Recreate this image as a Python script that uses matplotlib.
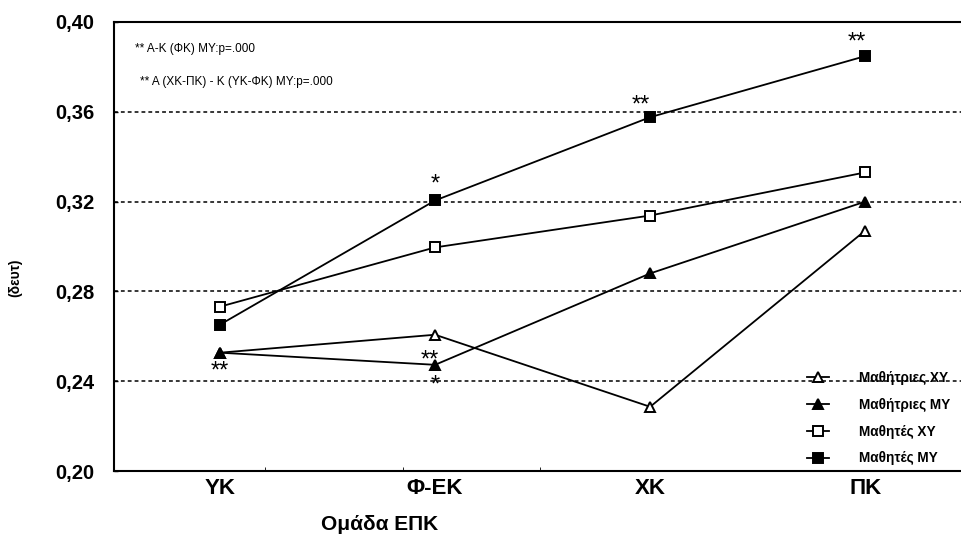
import matplotlib.pyplot as plt

categories = ['ΥΚ', 'Φ-ΕΚ', 'ΧΚ', 'ΠΚ']
girls_xy = [0.2527, 0.2607, 0.2286, 0.3071]
girls_my = [0.2527, 0.2473, 0.2880, 0.3200]
boys_xy = [0.2732, 0.2996, 0.3138, 0.3330]
boys_my = [0.2652, 0.3205, 0.3576, 0.3848]
series_names = ['Μαθήτριες ΧΥ', 'Μαθήτριες ΜΥ', 'Μαθητές ΧΥ', 'Μαθητές ΜΥ']
y_ticks = [0.20, 0.24, 0.28, 0.32, 0.36, 0.40]
y_tick_labels = ['0,20', '0,24', '0,28', '0,32', '0,36', '0,40']
note1 = '** Α-Κ (ΦΚ) ΜΥ:p=.000'
note2 = '** Α (ΧΚ-ΠΚ) - Κ (ΥΚ-ΦΚ) ΜΥ:p=.000'

plt.rcParams['font.family'] = ['Liberation Sans', 'DejaVu Sans']

fig = plt.figure(figsize=(9.62, 5.40), dpi=100)
ax = fig.add_axes([114 / 962, 69 / 540, 848 / 962, 449 / 540])

x = list(range(len(categories)))
ax.set_xlim(-0.493, 3.45)
ax.set_ylim(0.20, 0.40)

for yv in [0.24, 0.28, 0.32, 0.36]:
    ax.axhline(yv, color='black', lw=1.1, ls=(0, (2.5, 2)), zorder=1)

styles = [('^', 'white'), ('^', 'black'), ('s', 'white'), ('s', 'black')]
data = [girls_xy, girls_my, boys_xy, boys_my]
for vals, (m, fc), name in zip(data, styles, series_names):
    ax.plot(x, vals, color='black', lw=1.3, marker=m, markersize=7.5,
            markerfacecolor=fc, markeredgecolor='black', markeredgewidth=1.4,
            label=name, zorder=3)

# significance stars (offsets in points, baseline)
stars = [
    (3, boys_my[3], '**', -6, 5.5),
    (2, boys_my[2], '**', -7, 4),
    (1, boys_my[1], '*', 0, 7),
    (0, girls_my[0], '**', 0, -18),
    (1, girls_my[1], '**', -4, -1),
    (1, girls_my[1], '*', 0, -19),
]
for xi, yi, s, dx, dy in stars:
    ax.annotate(s, (xi, yi), xytext=(dx, dy), textcoords='offset points',
                ha='center', va='baseline', fontsize=17)

ax.text(21 / 848, 0.94, note1, transform=ax.transAxes,
        fontsize=8.5, va='center')
ax.text(26 / 848, 0.866, note2, transform=ax.transAxes,
        fontsize=8.5, va='center')

ax.set_yticks(y_ticks)
ax.set_yticklabels(y_tick_labels, fontsize=14.5, fontweight='bold')
ax.set_xticks(x)
ax.set_xticklabels(categories, fontsize=16, fontweight='bold')
ax.tick_params(axis='x', length=0, pad=5)
ax.tick_params(axis='y', direction='in', length=3, width=1, pad=14)
ax.set_xticks([0.21, 0.85, 1.49], minor=True)
ax.tick_params(axis='x', which='minor', direction='in', length=3)

for side in ['left', 'bottom', 'top']:
    ax.spines[side].set_linewidth(1.5)
ax.spines['right'].set_visible(False)

ax.set_xlabel('Ομάδα ΕΠΚ', fontsize=15, fontweight='bold', va='center')
ax.xaxis.set_label_coords((380 - 114) / 848, -0.12)
ax.set_ylabel('(δευτ)', fontsize=10, fontweight='bold', va='center')
ax.yaxis.set_label_coords(-0.116, 0.43)

ax.legend(loc='lower left', bbox_to_anchor=(0.803, -0.015), frameon=False,
          handlelength=1.6, handletextpad=2.2, labelspacing=0.95,
          prop={'weight': 'bold', 'size': 9.8})

fig.savefig('out.png', dpi=100)
